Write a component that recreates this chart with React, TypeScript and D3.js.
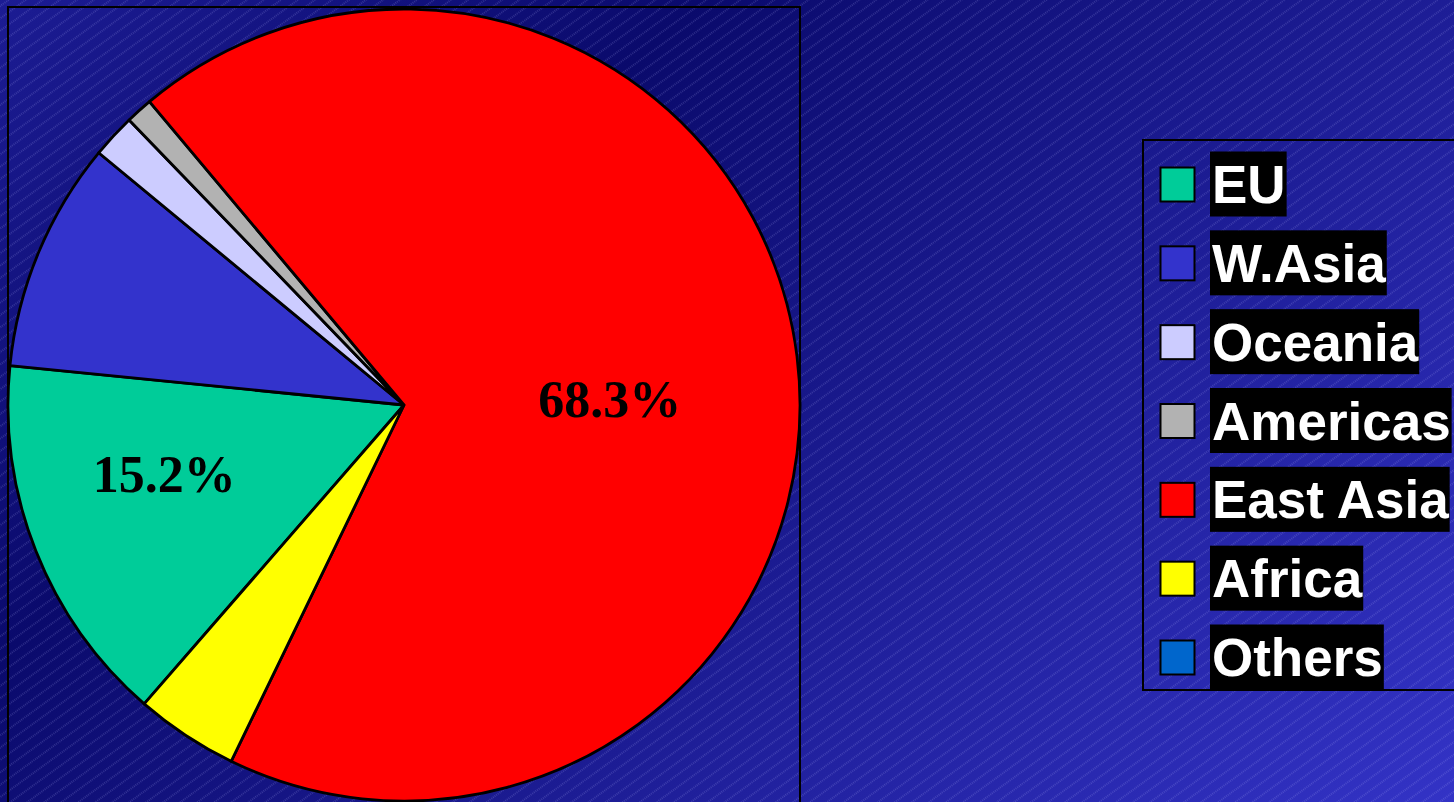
import React, { useEffect, useRef } from 'react';
import * as d3 from 'd3';

const regions = ['EU', 'W.Asia', 'Oceania', 'Americas', 'East Asia', 'Africa', 'Others'];
const shares = [15.2, 9.4, 1.8, 1.1, 68.3, 4.2, 0];
const colors = ['#00CC99', '#3333CC', '#CCCCFF', '#B2B2B2', '#FF0000', '#FFFF00', '#0066CC'];
const labelled = ['EU', 'East Asia'];

const W = 1454, H = 802;

export default function App() {
    const ref = useRef<SVGSVGElement>(null);

    useEffect(() => {
        const svg = d3.select(ref.current);
        svg.selectAll('*').remove();

        const defs = svg.append('defs');
        const grad = defs.append('linearGradient')
            .attr('id', 'bg')
            .attr('gradientUnits', 'userSpaceOnUse')
            .attr('x1', 700).attr('y1', 0)
            .attr('x2', W).attr('y2', H)
            .attr('spreadMethod', 'reflect');
        grad.append('stop').attr('offset', 0).attr('stop-color', '#0a0a6c');
        grad.append('stop').attr('offset', 1).attr('stop-color', '#3333c6');

        const hatch = defs.append('pattern')
            .attr('id', 'hatch')
            .attr('patternUnits', 'userSpaceOnUse')
            .attr('width', 20).attr('height', 10)
            .attr('patternTransform', 'rotate(-36)');
        hatch.append('line')
            .attr('x1', 0).attr('x2', 20)
            .attr('y1', 5).attr('y2', 5)
            .attr('stroke', 'rgba(190,190,255,0.38)')
            .attr('stroke-width', 1)
            .attr('stroke-dasharray', '1,1');

        svg.append('rect').attr('width', W).attr('height', H).attr('fill', 'url(#bg)');
        svg.append('rect').attr('width', W).attr('height', H).attr('fill', 'url(#hatch)');

        // plot area frame
        svg.append('rect')
            .attr('x', 8).attr('y', 7)
            .attr('width', 792).attr('height', 820)
            .attr('fill', 'none')
            .attr('stroke', '#000')
            .attr('stroke-width', 2);

        const cx = 404, cy = 405, r = 396;
        const start = 221 * Math.PI / 180;
        const data = regions.map((name, i) => ({ name, value: shares[i], color: colors[i] }));

        const pie = d3.pie<any>()
            .sort(null)
            .value(d => d.value)
            .startAngle(start)
            .endAngle(start + 2 * Math.PI);
        const arc = d3.arc<any>().innerRadius(0).outerRadius(r);

        const g = svg.append('g').attr('transform', `translate(${cx},${cy})`);
        const arcs = pie(data).filter(d => d.data.value > 0);
        g.selectAll('path').data(arcs).enter().append('path')
            .attr('d', arc)
            .attr('fill', d => d.data.color)
            .attr('stroke', '#000')
            .attr('stroke-width', 2.8)
            .attr('stroke-linejoin', 'round');

        // Excel "best fit" labels sit a little clockwise of the slice middle
        const shift = 5.5 * Math.PI / 180;
        const labelR: any = { 'EU': 0.63, 'East Asia': 0.52 };
        g.selectAll('text.lbl').data(arcs.filter(d => labelled.includes(d.data.name))).enter()
            .append('text')
            .attr('class', 'lbl')
            .attr('transform', d => {
                const a = (d.startAngle + d.endAngle) / 2 + shift;
                const rr = r * labelR[d.data.name];
                return `translate(${rr * Math.sin(a)},${-rr * Math.cos(a)})`;
            })
            .attr('text-anchor', 'middle')
            .attr('dy', '0.34em')
            .style('font-family', '"Liberation Serif", "Times New Roman", serif')
            .style('font-weight', 'bold')
            .style('font-size', '52px')
            .attr('fill', '#000')
            .text(d => d.data.value.toFixed(1) + '%');

        // legend
        const lg = svg.append('g');
        lg.append('rect')
            .attr('x', 1143).attr('y', 140)
            .attr('width', 330).attr('height', 550)
            .attr('fill', 'none')
            .attr('stroke', '#000')
            .attr('stroke-width', 2);

        const rowY = d3.scalePoint<string>().domain(regions).range([184.5, 657.5]);
        const rows = lg.selectAll('g.row').data(data).enter().append('g')
            .attr('class', 'row')
            .attr('transform', d => `translate(0,${rowY(d.name)})`);
        rows.append('rect')
            .attr('x', 1160.5).attr('y', -17)
            .attr('width', 34).attr('height', 34)
            .attr('fill', d => d.color)
            .attr('stroke', '#000')
            .attr('stroke-width', 2);
        const bg = rows.append('rect')
            .attr('x', 1210).attr('y', -33)
            .attr('height', 65)
            .attr('fill', '#000');
        const txt = rows.append('text')
            .attr('x', 1212).attr('y', 18.5)
            .style('font-family', '"Liberation Sans", Arial, sans-serif')
            .style('font-weight', 'bold')
            .style('font-size', '53px')
            .attr('fill', '#fff')
            .text(d => d.name);
        txt.each(function (_, i) {
            const w = (this as SVGTextElement).getComputedTextLength();
            d3.select(bg.nodes()[i]).attr('width', w + 3);
        });
    }, []);

    return (
        <svg ref={ref} width={W} height={H}
            style={{ position: 'absolute', left: 0, top: 0, display: 'block' }} />
    );
}
